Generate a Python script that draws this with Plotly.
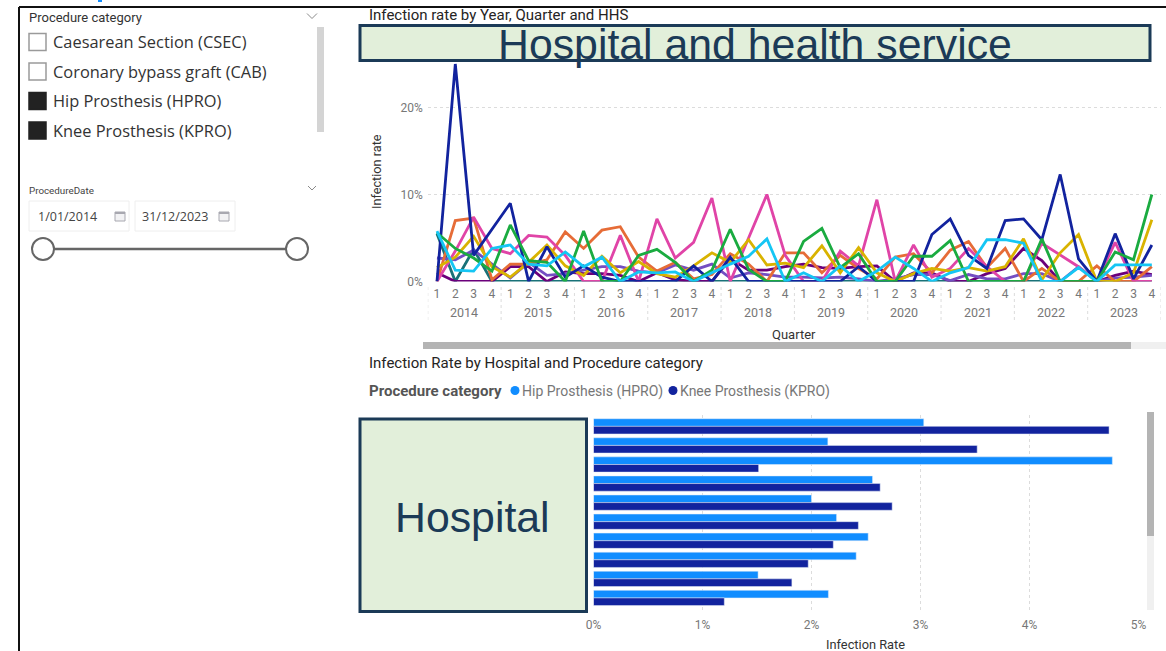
"""Infection rate dashboard rebuilt as a single Plotly figure."""

import plotly.graph_objects as go

W, H = 1166, 651

YEARS = ["2014", "2015", "2016", "2017", "2018", "2019", "2020", "2021", "2022", "2023"]
QUARTERS = ["1", "2", "3", "4"]

TEAL = [5.5, 0, 3.7, 0, 0, 0, 0, 0, 0, 0, 0, 0, 0, 0, 0, 0, 0, 0, 0, 0,
        0, 0, 0, 0, 0, 0, 0, 0, 0, 0, 0, 0, 0, 0, 0, 0, 0, 0, 0, 0]
DARK_PURPLE = [1, 0, 0, 0, 1.7, 1.7, 0, 1.1, 0.9, 0.9, 0.7, 0, 1, 0.2, 0, 0, 2.6, 1.3, 1.3, 1.7,
               2.0, 1.6, 1.5, 1.7, 1.8, 0, 1, 1, 0, 0, 0.9, 1.5, 3.8, 2.4, 0, 0, 0, 0.7, 1.2, 0.8]
PURPLE = [2.7, 2.5, 3.6, 2, 0.4, 2.2, 0.7, 0.9, 1.3, 1.7, 1.7, 1.2, 1, 1.9, 1.3, 2, 0.4, 1, 0.8, 0.5,
          0.5, 0.4, 0.5, 0.3, 0, 0.3, 0.8, 0.8, 0.1, 0.8, 0.3, 0.3, 0.9, 0.9, 0, 1.7, 0, 0.4, 0.5, 0.7]
NAVY = [0, 25, 3, 6, 9, 0, 4, 0.5, 1.8, 0.5, 0, 0, 0, 0, 1.8, 0, 2.8, 0, 0, 0,
        0, 0, 0, 1.7, 0, 0, 0, 5.4, 7.2, 3, 1.5, 7.0, 7.2, 4.8, 12.3, 2.6, 0, 5.5, 0.3, 4.2]
ORANGE = [0, 7, 7.3, 0.2, 2, 2, 2.5, 5.7, 3.8, 5.9, 6.3, 2.8, 1.2, 2.2, 0.3, 0.8, 3.2, 2, 0, 3.3,
          3.3, 1.0, 3, 1.5, 0.3, 2.8, 3.2, 1, 3.6, 4.6, 1.6, 3.8, 0, 1.5, 0, 0, 1.8, 0, 0, 1.7]
PINK = [0, 3.5, 7.4, 3.8, 3.2, 5.3, 5.1, 3, 0, 0, 5.3, 0, 7.2, 2.7, 4.5, 9.6, 0, 5, 10, 3,
        0, 0, 3.5, 1.8, 9.4, 0, 4.2, 0.5, 1.5, 3.8, 1.7, 0, 0, 4.4, 3, 1.7, 0, 4.5, 0, 0]
YELLOW = [1.6, 2.8, 5.2, 1.7, 0.5, 2.2, 4.2, 1.8, 0.7, 2.9, 1, 2.3, 0.9, 0.5, 1.8, 3.3, 2.2, 4.8, 1.9, 2.1,
          1.6, 4.1, 1, 3.9, 1.0, 0, 0.9, 1.5, 1.2, 1.6, 1.2, 1.7, 4.9, 0.2, 3.3, 5.4, 0, 0, 1, 7.1]
GREEN = [5.6, 3.8, 2.7, 1.2, 6.5, 2.4, 2.2, 0, 5.8, 0, 0, 3, 3.7, 2.2, 0, 1.3, 6, 1.4, 0, 0,
         4.6, 6.1, 1.6, 3.2, 0, 0, 2.9, 2.9, 4.7, 0, 0, 0, 0, 4.9, 0, 0, 0, 3.4, 2.5, 10]
CYAN = [5.8, 1.3, 1.2, 3.8, 4.2, 2, 1.8, 3.4, 1.7, 2.8, 0, 1.1, 1, 1.1, 0, 1, 2, 2.9, 4.9, 0,
        1, 0, 1.8, 0, 1.2, 2.8, 1.5, 0, 1, 1.6, 4.8, 4.8, 4.4, 0, 0, 1.6, 0, 1.9, 1.9, 1.9]

HOSPITALS = ["H1", "H2", "H3", "H4", "H5", "H6", "H7", "H8", "H9", "H10"]
HIP_RATE = [3.03, 2.15, 4.76, 2.56, 2.0, 2.23, 2.52, 2.41, 1.51, 2.155]
KNEE_RATE = [4.73, 3.52, 1.515, 2.63, 2.74, 2.43, 2.2, 1.97, 1.82, 1.2]

SLICER_ITEMS = ["Caesarean Section (CSEC)", "Coronary bypass graft (CAB)",
                "Hip Prosthesis (HPRO)", "Knee Prosthesis (KPRO)"]
SLICER_CHECKED = [False, False, True, True]

_TITLE_FONT = "Roboto"
_UI_FONT = "Open Sans"
_TICK = "#777777"
_INK = "#252423"
_GRID = "#DCDCDC"
_BOX_FILL = "#E2EFDA"
_BOX_LINE = "#1B3A57"


def fx(x):
    return x / W


def fy(y):
    return 1 - y / H


def rect(x0, y0, x1, y1, **kw):
    return dict(type="rect", xref="paper", yref="paper", x0=fx(x0), x1=fx(x1), y0=fy(y0), y1=fy(y1), **kw)


def seg(x0, y0, x1, y1, color, width=1, dash="solid"):
    return dict(type="line", xref="paper", yref="paper", x0=fx(x0), x1=fx(x1), y0=fy(y0), y1=fy(y1),
                line=dict(color=color, width=width, dash=dash))


def circle(cx, cy, r, **kw):
    return dict(type="circle", xref="paper", yref="paper", x0=fx(cx - r), x1=fx(cx + r),
                y0=fy(cy + r), y1=fy(cy - r), **kw)


def label(x, y, text, size, color=_INK, family=_TITLE_FONT, xanchor="left", angle=0):
    return dict(x=fx(x), y=fy(y), xref="paper", yref="paper", text=text, showarrow=False,
                xanchor=xanchor, yanchor="middle", textangle=angle,
                font=dict(size=size, color=color, family=family), borderpad=0, borderwidth=0)


def chevron(cx, cy, half):
    return [seg(cx - half, cy - half / 2, cx, cy + half / 2, "#8a8a8a"),
            seg(cx, cy + half / 2, cx + half, cy - half / 2, "#8a8a8a")]


def calendar(cx, cy):
    return [rect(cx - 5, cy - 4, cx + 5, cy + 5, line=dict(color="#A8A8B0", width=1), fillcolor="#F2F2F4"),
            rect(cx - 5, cy - 4, cx + 5, cy - 2, line=dict(width=0), fillcolor="#A8A8B0")]


fig = go.Figure()

quarter_index = list(range(len(YEARS) * len(QUARTERS)))
line_series = [(TEAL, "#197278"), (DARK_PURPLE, "#6B007B"), (PURPLE, "#744EC2"), (ORANGE, "#E66C37"),
               (PINK, "#E044A7"), (YELLOW, "#D9B300"), (NAVY, "#12239E"), (GREEN, "#1AAB40"), (CYAN, "#15C6F4")]
for values, color in line_series:
    fig.add_trace(go.Scatter(x=quarter_index, y=values, mode="lines", line=dict(color=color, width=2.8),
                             xaxis="x", yaxis="y", showlegend=False))

fig.add_trace(go.Bar(y=HOSPITALS, x=HIP_RATE, orientation="h", marker_color="#118DFF",
                     name="Hip Prosthesis (HPRO)", xaxis="x2", yaxis="y2", showlegend=False))
fig.add_trace(go.Bar(y=HOSPITALS, x=KNEE_RATE, orientation="h", marker_color="#12239E",
                     name="Knee Prosthesis (KPRO)", xaxis="x2", yaxis="y2", showlegend=False))

shapes = [
    seg(19, 7, 1166, 7, "#111111", 2),
    seg(19, 7, 19, 651, "#111111", 2),
    rect(98, 0, 102, 2, line=dict(width=0), fillcolor="#118DFF"),
    # slicer furniture
    rect(317, 27, 324, 132, line=dict(width=0), fillcolor="#D4D4D4"),
    rect(29, 201, 129, 231, line=dict(color="#EEEEEE", width=1), fillcolor="white"),
    rect(135, 201, 235, 231, line=dict(color="#EEEEEE", width=1), fillcolor="white"),
    seg(43, 249, 297, 249, "#666666", 2.5),
    circle(43, 249, 11, line=dict(color="#666666", width=2), fillcolor="white"),
    circle(297, 249, 11, line=dict(color="#666666", width=2), fillcolor="white"),
    # scrollbars
    rect(423, 342, 1166, 349, line=dict(width=0), fillcolor="#F0F0F0"),
    rect(423, 342, 1131, 349, line=dict(width=0), fillcolor="#B4B4B4"),
    rect(1147, 412, 1154, 610, line=dict(width=0), fillcolor="#F0F0F0"),
    rect(1147, 412, 1154, 536, line=dict(width=0), fillcolor="#B4B4B4"),
    # masking boxes
    rect(360, 25.5, 1150, 60.5, line=dict(color=_BOX_LINE, width=3), fillcolor=_BOX_FILL, layer="above"),
    rect(360, 419, 586.5, 611.5, line=dict(color=_BOX_LINE, width=3), fillcolor=_BOX_FILL, layer="above"),
    # legend dots
    circle(515, 390.5, 4.5, line=dict(width=0), fillcolor="#118DFF"),
    circle(673, 390.5, 4.5, line=dict(width=0), fillcolor="#12239E"),
]
shapes += chevron(312, 16, 5) + chevron(312, 188, 4)
shapes += calendar(120, 216) + calendar(224, 216)

annotations = [
    label(29, 18, "Procedure category", 13, "#333333", _TITLE_FONT),
    label(29, 190, "ProcedureDate", 9.8, "#444444", _TITLE_FONT),
    label(38, 217, "1/01/2014", 12.5, "#444444", _UI_FONT),
    label(142, 217, "31/12/2023", 12.5, "#444444", _UI_FONT),
    label(369, 15, "Infection rate by Year, Quarter and HHS", 15, _INK),
    label(369, 363, "Infection Rate by Hospital and Procedure category", 15, _INK),
    label(369, 391, "<b>Procedure category</b>", 15, "#555555"),
    label(522, 391, "Hip Prosthesis (HPRO)", 14, "#777777"),
    label(680, 391, "Knee Prosthesis (KPRO)", 14, "#777777"),
    label(376, 172, "Infection rate", 12.7, "#333333", xanchor="center", angle=-90),
    label(794, 335, "Quarter", 13, "#333333", xanchor="center"),
    label(865.5, 644, "Infection Rate", 12.8, "#333333", xanchor="center"),
    label(754.5, 44, "Hospital and health service", 42.8, _BOX_LINE, "Liberation Sans", xanchor="center"),
    label(472.5, 517, "Hospital", 42.8, _BOX_LINE, "Liberation Sans", xanchor="center"),
]
for i, (item, checked) in enumerate(zip(SLICER_ITEMS, SLICER_CHECKED)):
    cy = 42 + i * 29.5
    annotations.append(label(53, cy, item, 16.4, "#333333", _UI_FONT))
    shapes.append(rect(29, cy - 8.5, 46, cy + 8.5, line=dict(color="#9a9a9a" if not checked else "#222222", width=1.5),
                       fillcolor="#222222" if checked else "white"))

# year labels and dotted dividers under the quarter axis, placed on the x scale
for k, year in enumerate(YEARS):
    annotations.append(dict(x=k * 4 + 1.5, y=fy(313), xref="x", yref="paper", text=year, showarrow=False,
                            xanchor="center", yanchor="middle",
                            font=dict(size=12.5, color=_TICK, family=_TITLE_FONT)))
for k in range(len(YEARS) + 1):
    shapes.append(dict(type="line", xref="x", yref="paper", x0=k * 4 - 0.5, x1=k * 4 - 0.5, y0=fy(287), y1=fy(323),
                       line=dict(color=_GRID, width=1, dash="dot")))

fig.update_layout(
    width=W,
    height=H,
    margin=dict(l=0, r=0, t=0, b=0),
    autosize=False,
    paper_bgcolor="white",
    plot_bgcolor="white",
    barmode="group",
    bargap=0.2,
    bargroupgap=0,
    xaxis=dict(
        domain=[fx(427.8), fx(1161)], anchor="y", range=[-0.5, 39.5], tickmode="array", tickvals=quarter_index,
        ticktext=QUARTERS * len(YEARS), showgrid=False, zeroline=False, showline=False, ticklabelstandoff=3,
        tickfont=dict(size=12, color=_TICK, family=_TITLE_FONT), automargin=False,
    ),
    yaxis=dict(
        domain=[fy(281.5), fy(59.65)], anchor="x", range=[0, 25.5], tick0=0, dtick=10, ticksuffix="%",
        griddash="dot", gridcolor=_GRID, gridwidth=1, zeroline=False, showline=False, ticklabelstandoff=4,
        tickfont=dict(size=12, color=_TICK, family=_TITLE_FONT), automargin=False,
    ),
    xaxis2=dict(
        domain=[fx(593.5), fx(1138.5)], anchor="y2", range=[0, 5], tick0=0, dtick=1, ticksuffix="%",
        griddash="dot", gridcolor=_GRID, gridwidth=1, zeroline=False, showline=False, ticklabelstandoff=3,
        tickfont=dict(size=12, color=_TICK, family=_TITLE_FONT), automargin=False,
    ),
    yaxis2=dict(
        domain=[fy(613), fy(415.3)], anchor="x2", type="category", range=[9.79, -0.58], showticklabels=False,
        showgrid=False, zeroline=False, showline=False, automargin=False,
    ),
    shapes=shapes,
    annotations=annotations,
)

fig.write_html("out.html", config={"displayModeBar": False},
               post_script="document.body.style.margin='0';document.body.style.overflow='hidden';")
